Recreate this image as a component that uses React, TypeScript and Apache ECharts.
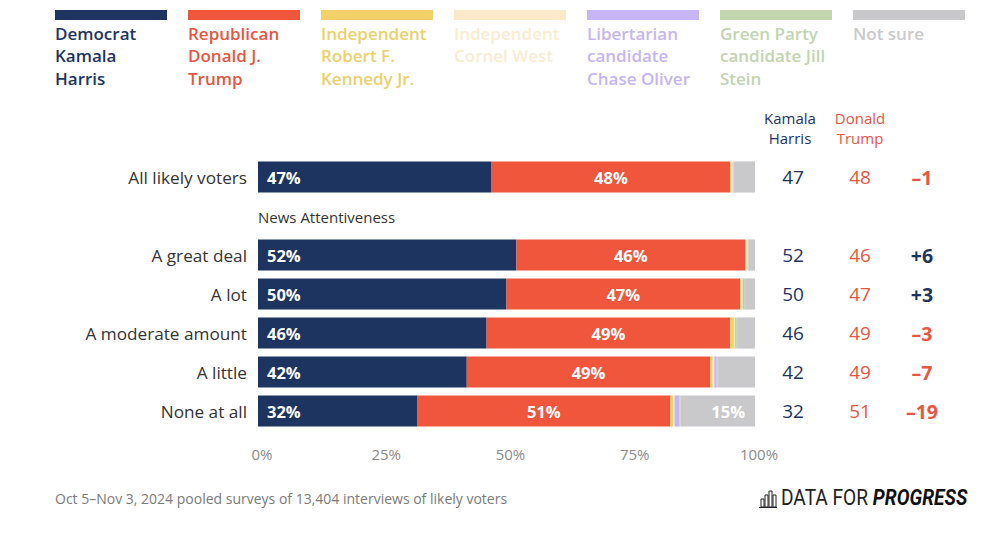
import React, { useEffect, useRef } from "react";
import * as echarts from "echarts";

const categories = ["All likely voters", "", "A great deal", "A lot", "A moderate amount", "A little", "None at all"];
const harris = [47, null, 52, 50, 46, 42, 32];
const trump = [48, null, 46, 47, 49, 49, 51];
const kennedy = [0.3, null, 0.3, 0.3, 0.8, 0.5, 0.5];
const west = [0.2, null, 0.2, 0.2, 0.2, 0.3, 0.3];
const oliver = [0.1, null, 0.1, 0.3, 0.2, 0.5, 1.0];
const stein = [0.1, null, 0.1, 0.2, 0.2, 0.2, 0.2];
const notSure = [4.3, null, 1.3, 2.0, 3.6, 7.5, 15];

const xTicks = [0, 25, 50, 75, 100];

const seriesNames = [
  "Democrat\nKamala\nHarris",
  "Republican\nDonald J.\nTrump",
  "Independent\nRobert F.\nKennedy Jr.",
  "Independent\nCornel West",
  "Libertarian\ncandidate\nChase Oliver",
  "Green Party\ncandidate Jill\nStein",
  "Not sure",
];
const seriesColors = ["#1d3461", "#f0563c", "#f1d168", "#fbe9c9", "#c7b6f6", "#c3d6ad", "#c9c8cb"];
const legendTextColors = ["#1d3461", "#e8563f", "#ecd06e", "#fbebd0", "#c6b5f2", "#c2d4b0", "#c9c9cb"];

const sectionLabel = "News Attentiveness";
const headerHarris = "Kamala\nHarris";
const headerTrump = "Donald\nTrump";
const footnote = "Oct 5\u2013Nov 3, 2024 pooled surveys of 13,404 interviews of likely voters";

const FONT = "'Open Sans', sans-serif";

export default function App() {
  const ref = useRef<HTMLDivElement>(null);
  useEffect(() => {
    document.body.style.margin = "0";
    const chart = echarts.init(ref.current!, null, { renderer: "svg" });
    const values = [harris, trump, kennedy, west, oliver, stein, notSure];

    const series = values.map((arr, i) => {
      const s: any = {
        name: seriesNames[i],
        type: "bar",
        stack: "total",
        data: arr.map((v) => (v === null ? "-" : v)),
        barCategoryGap: "20%",
        itemStyle: { color: seriesColors[i] },
        emphasis: { disabled: true },
      };
      if (i === 0) {
        s.label = {
          show: true,
          position: "insideLeft",
          distance: 9,
          color: "#fff",
          fontWeight: "bold",
          fontSize: 16.5,
          fontFamily: FONT,
          formatter: (p: any) => `${p.value}%`,
        };
      } else if (i === 1) {
        s.label = {
          show: true,
          position: "inside",
          color: "#fff",
          fontWeight: "bold",
          fontSize: 16.5,
          fontFamily: FONT,
          formatter: (p: any) => `${p.value}%`,
        };
      } else if (i === 6) {
        s.label = {
          show: true,
          position: "insideRight",
          distance: 10,
          color: "#fff",
          fontWeight: "bold",
          fontSize: 16.5,
          fontFamily: FONT,
          formatter: (p: any) => (p.value >= 10 ? `${Math.round(p.value)}%` : ""),
        };
      }
      return s;
    });

    const graphic: any[] = [];
    const legendX0 = 55;
    const legendStep = 133;
    seriesNames.forEach((n, i) => {
      const x = legendX0 + i * legendStep;
      graphic.push({ type: "rect", left: x, top: 10, shape: { width: 112, height: 10 }, style: { fill: seriesColors[i] } });
      graphic.push({
        type: "text",
        left: x,
        top: 22,
        style: { text: n, fill: legendTextColors[i], font: `600 17px ${FONT}`, lineHeight: 22.5 },
      });
    });
    graphic.push({
      type: "text",
      left: 258,
      top: 209,
      style: { text: sectionLabel, fill: "#333", font: `15px ${FONT}` },
    });
    graphic.push({
      type: "text",
      x: 790,
      y: 108,
      style: { text: headerHarris, fill: "#1d3461", font: `15px ${FONT}`, align: "center", lineHeight: 20 },
    });
    graphic.push({
      type: "text",
      x: 860,
      y: 108,
      style: { text: headerTrump, fill: "#e8563f", font: `15px ${FONT}`, align: "center", lineHeight: 20 },
    });
    graphic.push({
      type: "text",
      left: 55,
      top: 491,
      style: { text: footnote, fill: "#7a7a7a", font: `14px ${FONT}` },
    });
    // logo icon
    const iconH = [8, 12, 16, 12];
    iconH.forEach((h, i) => {
      graphic.push({
        type: "rect",
        shape: { x: 761 + i * 4, y: 507 - h, width: 3, height: h },
        style: { fill: "none", stroke: "#222", lineWidth: 1 },
      });
    });
    graphic.push({ type: "line", shape: { x1: 759, y1: 507.5, x2: 777, y2: 507.5 }, style: { stroke: "#222", lineWidth: 1 } });
    graphic.push({
      type: "text",
      x: 781,
      y: 487,
      scaleX: 0.87,
      style: {
        text: "{a|DATA FOR }{b|PROGRESS}",
        rich: {
          a: { font: `22px Roboto, sans-serif`, fill: "#222" },
          b: { font: `italic bold 22px Roboto, sans-serif`, fill: "#111" },
        },
      },
    });

    const fmtDiff = (d: number) => (d > 0 ? `+${d}` : d < 0 ? `\u2013${Math.abs(d)}` : "0");

    chart.setOption({
      animation: false,
      textStyle: { fontFamily: FONT },
      grid: { left: 258, right: 245, top: 157.5, bottom: 115.5 },
      xAxis: {
        type: "value",
        min: 0,
        max: 100,
        interval: 25,
        splitLine: { show: false },
        axisLine: { show: false },
        axisTick: { show: false },
        axisLabel: {
          color: "#8a8a8a",
          fontSize: 15,
          margin: 16,
          padding: [0, 0, 0, 8],
          fontFamily: FONT,
          formatter: (v: number) => (xTicks.includes(v) ? `${v}%` : ""),
        },
      },
      yAxis: [
        {
          type: "category",
          data: categories,
          inverse: true,
          axisLine: { show: false },
          axisTick: { show: false },
          axisLabel: { color: "#333", fontSize: 17.2, margin: 11, fontFamily: FONT },
        },
        {
          type: "category",
          data: categories,
          inverse: true,
          position: "right",
          axisLine: { show: false },
          axisTick: { show: false },
          axisLabel: {
            margin: 5,
            formatter: (_v: string, idx: number) => {
              const h = harris[idx];
              const t = trump[idx];
              if (h === null || t === null) return "";
              const d = h - t;
              return `{h|${h}}{t|${t}}{${d >= 0 ? "p" : "n"}|${fmtDiff(d)}}`;
            },
            rich: {
              h: { width: 66, align: "center", color: "#1d3461", fontSize: 19, fontFamily: FONT },
              t: { width: 68, align: "center", color: "#e8563f", fontSize: 19, fontFamily: FONT },
              p: { width: 56, align: "center", color: "#1d3461", fontSize: 19.5, fontWeight: "bold", fontFamily: FONT },
              n: { width: 56, align: "center", color: "#e8563f", fontSize: 19.5, fontWeight: "bold", fontFamily: FONT },
            },
          },
        },
      ],
      series,
      graphic,
    });
    return () => chart.dispose();
  }, []);
  return <div ref={ref} style={{ width: 1000, height: 546 }} />;
}
